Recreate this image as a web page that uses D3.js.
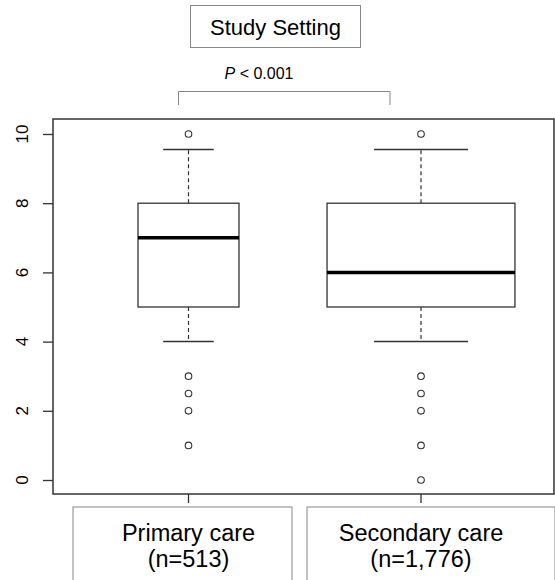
<!DOCTYPE html>
<html>
<head>
<meta charset="utf-8">
<script src="https://cdn.jsdelivr.net/npm/d3@7"></script>
<style>
  body { margin: 0; background: #fff; }
  svg text { font-family: "Liberation Sans", Arial, sans-serif; fill: #000; }
</style>
</head>
<body>
<div id="viz"></div>
<script>
var width = 555, height = 580;

// data
var groups = ['Primary care', 'Secondary care'];
var counts = ['(n=513)', '(n=1,776)'];
var sizes = [513, 1776];
var lowerWhisker = [4, 4];
var q1 = [5, 5];
var median = [7, 6];
var q3 = [8, 8];
var upperWhisker = [9.55, 9.55];
var outliers = [[10, 3, 2.5, 2, 1], [10, 3, 2.5, 2, 1, 0]];
var yTicks = [0, 2, 4, 6, 8, 10];
var title = 'Study Setting';

var svg = d3.select('#viz').append('svg')
  .attr('width', width)
  .attr('height', height);

var x = d3.scaleLinear().domain([1, 2]).range([188.5, 421]);
var y = d3.scaleLinear().domain([0, 10]).range([480, 134]);
// box half-widths proportional to sqrt(n), like R varwidth
var bw = d3.scaleSqrt().domain([0, 513]).range([0, 50.5]);

var stroke = '#333';

// plot frame
svg.append('rect')
  .attr('x', 53).attr('y', 119)
  .attr('width', 501).attr('height', 375)
  .attr('fill', 'none').attr('stroke', stroke).attr('stroke-width', 1.5);

// y axis ticks
var yAxis = svg.append('g')
  .attr('transform', 'translate(53,0)')
  .call(d3.axisLeft(y).tickValues(yTicks).tickSize(10).tickFormat('').tickSizeOuter(0));
yAxis.select('.domain').remove();
yAxis.selectAll('line').attr('stroke', stroke).attr('stroke-width', 1.3);

// rotated tick labels, as R draws them
svg.append('g').selectAll('text')
  .data(yTicks)
  .join('text')
  .attr('transform', d => 'translate(22,' + y(d) + ') rotate(-90)')
  .attr('dy', '0.36em')
  .attr('text-anchor', 'middle')
  .style('font-size', '17px')
  .text(d => d);

// x ticks at bottom
svg.append('g').selectAll('line')
  .data(groups)
  .join('line')
  .attr('x1', (d, i) => x(i + 1)).attr('x2', (d, i) => x(i + 1))
  .attr('y1', 494).attr('y2', 503)
  .attr('stroke', stroke).attr('stroke-width', 1.3);

var box = svg.append('g').selectAll('g')
  .data(groups)
  .join('g');

box.each(function(d, i) {
  var g = d3.select(this);
  var cx = x(i + 1), hw = bw(sizes[i]);
  // whiskers
  g.append('line')
    .attr('x1', cx).attr('x2', cx)
    .attr('y1', y(q3[i])).attr('y2', y(upperWhisker[i]))
    .attr('stroke', stroke).attr('stroke-width', 1.2).attr('stroke-dasharray', '4,3');
  g.append('line')
    .attr('x1', cx).attr('x2', cx)
    .attr('y1', y(q1[i])).attr('y2', y(lowerWhisker[i]))
    .attr('stroke', stroke).attr('stroke-width', 1.2).attr('stroke-dasharray', '4,3');
  // caps
  [upperWhisker[i], lowerWhisker[i]].forEach(function(v) {
    g.append('line')
      .attr('x1', cx - hw / 2).attr('x2', cx + hw / 2)
      .attr('y1', y(v)).attr('y2', y(v))
      .attr('stroke', stroke).attr('stroke-width', 1.5);
  });
  // box
  g.append('rect')
    .attr('x', cx - hw).attr('y', y(q3[i]))
    .attr('width', hw * 2).attr('height', y(q1[i]) - y(q3[i]))
    .attr('fill', '#fff').attr('stroke', stroke).attr('stroke-width', 1.3);
  // median
  g.append('line')
    .attr('x1', cx - hw).attr('x2', cx + hw)
    .attr('y1', y(median[i])).attr('y2', y(median[i]))
    .attr('stroke', '#000').attr('stroke-width', 3.5);
  // outliers
  g.selectAll('circle')
    .data(outliers[i])
    .join('circle')
    .attr('cx', cx).attr('cy', v => y(v))
    .attr('r', 3.3)
    .attr('fill', 'none').attr('stroke', stroke).attr('stroke-width', 1.1);
});

// category label boxes
var lab = svg.append('g').selectAll('g')
  .data(groups)
  .join('g');
var labX = [73, 307], labW = [219, 248];
lab.append('rect')
  .attr('x', (d, i) => labX[i]).attr('y', 507)
  .attr('width', (d, i) => labW[i]).attr('height', 90)
  .attr('fill', '#fff').attr('stroke', '#888').attr('stroke-width', 1);
lab.append('text')
  .attr('x', (d, i) => x(i + 1)).attr('y', 541)
  .attr('text-anchor', 'middle')
  .style('font-size', '23.5px')
  .text(d => d);
lab.append('text')
  .attr('x', (d, i) => x(i + 1)).attr('y', 567)
  .attr('text-anchor', 'middle')
  .style('font-size', '23.5px')
  .text((d, i) => counts[i]);

// title box
svg.append('rect')
  .attr('x', 190.5).attr('y', 5.5)
  .attr('width', 170).attr('height', 42)
  .attr('fill', '#fff').attr('stroke', '#888').attr('stroke-width', 1);
svg.append('text')
  .attr('x', 275.5).attr('y', 35)
  .attr('text-anchor', 'middle')
  .style('font-size', '22px')
  .text(title);

// significance bracket
svg.append('path')
  .attr('d', 'M' + (x(1) - 10) + ',105V91.5H' + (x(2) - 31) + 'V105')
  .attr('fill', 'none').attr('stroke', '#888').attr('stroke-width', 1);
var p = svg.append('text')
  .attr('x', 259).attr('y', 79)
  .attr('text-anchor', 'middle')
  .style('font-size', '16px');
p.append('tspan').style('font-style', 'italic').text('P');
p.append('tspan').text(' < 0.001');
</script>
</body>
</html>
